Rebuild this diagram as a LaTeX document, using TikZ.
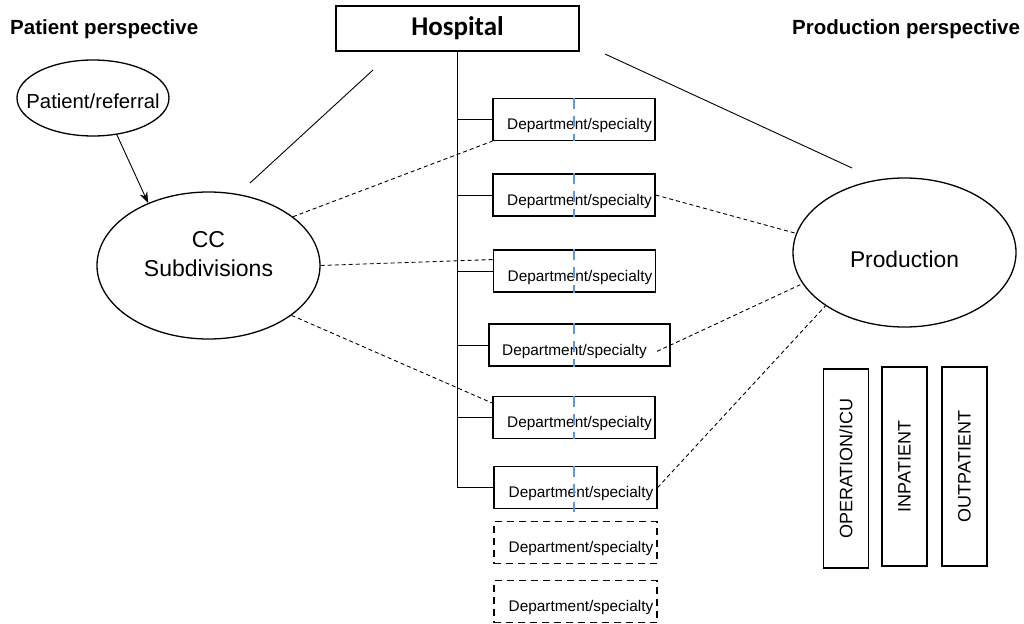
\documentclass[tikz,border=0pt]{standalone}
\usepackage{fontspec}
\setmainfont{Liberation Sans}
\newfontfamily\hospfont{Carlito}
\usetikzlibrary{shapes.geometric, arrows.meta}
\definecolor{splitblue}{HTML}{5B9BD5}
\tikzstyle{deptbox} = [
    rectangle,
    minimum width=162pt,
    minimum height=42pt,
    inner sep=0pt,
    text height=24pt,
    text depth=3.2pt,
    draw=black,
    line width=1.3pt,
    font=\fontsize{15.4}{18}\selectfont
]
\tikzstyle{dept} = [
    deptbox,
    execute at begin node={\hspace*{11pt}}
]
\tikzstyle{sparebox} = [
    dept,
    dash pattern=on 7pt off 5pt
]
\tikzstyle{bubble} = [
    ellipse,
    inner sep=0pt,
    draw=black,
    line width=1.3pt
]
\tikzstyle{heading} = [
    anchor=base west,
    inner sep=0pt,
    font=\bfseries\fontsize{20.5}{24}\selectfont
]
\tikzstyle{unitbox} = [
    rectangle,
    rotate=90,
    minimum width=199pt,
    minimum height=45pt,
    draw=black,
    line width=1.3pt,
    font=\fontsize{18}{21}\selectfont
]
\tikzstyle{tie} = [line width=0.9pt]
\tikzstyle{link} = [line width=0.9pt, dash pattern=on 4pt off 3pt]
\tikzstyle{splitline} = [splitblue, line width=2.3pt, dash pattern=on 11pt off 7pt]
\tikzstyle{arrow} = [line width=0.9pt, -{Stealth[length=11pt, width=8pt]}]

\begin{document}
\begin{tikzpicture}[x=1pt, y=-1pt]
\useasboundingbox (0,0) rectangle (1024,623);

\node (hosp) [rectangle, draw=black, line width=1.3pt, minimum width=243pt,
    minimum height=45pt, font=\hospfont\bfseries\fontsize{27}{30}\selectfont]
    at (457.5,28.5) {Hospital};

\node (patpersp) [heading] at (10,35) {Patient perspective};
\node (prodpersp) [heading] at (792,35) {Production perspective};

\node (referral) [bubble, minimum width=152pt, minimum height=76pt,
    label={[font=\fontsize{20.3}{24}\selectfont, yshift=-3pt]center:Patient/referral}]
    at (93,98) {};

\node (cc) [bubble, minimum width=223pt, minimum height=147pt, align=center,
    text depth=24pt, font=\fontsize{23}{29}\selectfont]
    at (208.5,265.5) {CC\\Subdivisions};

\node (prod) [bubble, minimum width=223pt, minimum height=149pt,
    text height=29pt, text depth=0pt, font=\fontsize{22.8}{26}\selectfont]
    at (904.5,252.5) {Production};

% departments
\node (d1) [dept] at (574,119.5) {Department/specialty};
\node (d2) [dept] at (574,195) {Department/specialty};
\node (d3) [dept] at (574.5,271) {Department/specialty};
\node (d4) [deptbox, minimum width=181pt, execute at end node={\hspace*{10pt}}]
    at (579.5,345) {Department/specialty};
\node (d5) [dept] at (574,417.5) {Department/specialty};
\node (d6) [dept, minimum width=163pt] at (575.5,487.5) {Department/specialty};
\node (d7) [sparebox, minimum width=163pt] at (575.5,542.5) {Department/specialty};
\node (d8) [sparebox, minimum width=163pt] at (575.5,601.5) {Department/specialty};

% production units
\node (opunit) [unitbox] at (846,468.5) {OPERATION/ICU};
\node (inunit) [unitbox] at (904.5,466.5) {INPATIENT};
\node (outunit) [unitbox] at (964.5,466.5) {OUTPATIENT};

\coordinate (trunkend) at (hosp.south |- d6.west);
\coordinate (hospleft) at (373,70);
\coordinate (ccup) at (250,183);
\coordinate (hospright) at (605,54);
\coordinate (produp) at (852,168);
\coordinate (splitx) at (574,0);
\coordinate (splitend) at (574,512);

\draw [tie] (hosp) -- (trunkend);
\foreach \d in {d1,d2,d3,d4,d5,d6}
    \draw [tie] (hosp.south |- \d.west) -- (\d.west);
\foreach \d in {d1,d2,d3,d4,d5}
    \draw [splitline] (splitx |- \d.north) -- (splitx |- \d.south);
\draw [splitline] (splitx |- d6.north) -- (splitend);

\draw [tie] (hospleft) -- (ccup);
\draw [tie] (hospright) -- (produp);
\draw [arrow] (referral.-57) -- (cc.134);

\draw [link] (cc.30) -- (d1.south west);
\draw [link] (cc.east) -- (d3.172);
\draw [link] (cc.-31) -- (d5.170);
\draw [link] (d2.east) -- (prod.170);
\draw [link, shorten <=-15pt] (d4.east) -- (prod.197);
\draw [link] (d6.east) -- (prod.214);

\end{tikzpicture}
\end{document}
